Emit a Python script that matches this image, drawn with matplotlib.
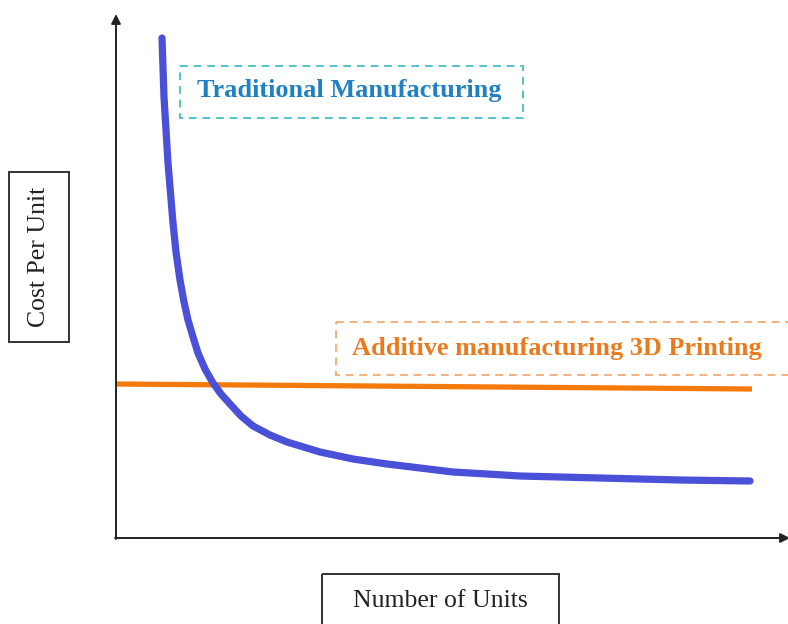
import matplotlib
matplotlib.use("Agg")
import matplotlib.pyplot as plt
from matplotlib.patches import Rectangle, FancyArrowPatch

# Cost per unit versus number of units (arbitrary scale)
units_traditional = [46, 48, 52, 57, 60, 64, 68, 72, 77, 82, 89, 97, 105, 114,
                     125, 137, 154, 171, 204, 237, 271, 304, 337, 371, 404, 484, 564, 634]
cost_traditional = [500, 441, 375, 315, 286, 258, 236, 218, 201, 185, 169, 155, 144, 134,
                    122, 112, 103, 96, 86, 79, 74, 70, 66, 64, 62, 60, 58, 57]
units_additive = [0, 636]
cost_additive = [154, 149]

label_traditional = "Traditional Manufacturing"
label_additive = "Additive manufacturing 3D Printing"
xlabel = "Number of Units"
ylabel = "Cost Per Unit"

W, H = 788, 624
fig = plt.figure(figsize=(W / 100, H / 100), dpi=100)
serif = ["Liberation Serif", "DejaVu Serif"]

# Main plotting area: origin at (116, 538) px, extending to (786, 18) px
x0, y0, x1, y1 = 116, 538, 786, 18
ax = fig.add_axes([x0 / W, (H - y0) / H, (x1 - x0) / W, (y0 - y1) / H])
ax.set_xlim(0, x1 - x0)
ax.set_ylim(0, y0 - y1)
ax.axis("off")

ax.plot(units_additive, cost_additive, color="#F47A0C", lw=3.8,
        solid_capstyle="butt", zorder=2)
ax.plot(units_traditional, cost_traditional, color="#4A50D8", lw=5.2,
        solid_capstyle="round", solid_joinstyle="round", zorder=3)

# Overlay in pixel coordinates for axes arrows, boxes and labels
ov = fig.add_axes([0, 0, 1, 1])
ov.set_xlim(0, W)
ov.set_ylim(H, 0)
ov.axis("off")
ov.patch.set_alpha(0)

axis_col = "#222222"
ov.add_patch(FancyArrowPatch((x0, y0 + 1), (x0, 14), arrowstyle="-|>",
                             mutation_scale=14, color=axis_col, lw=1.4,
                             shrinkA=0, shrinkB=0))
ov.add_patch(FancyArrowPatch((x0 - 1, y0), (790, y0), arrowstyle="-|>",
                             mutation_scale=14, color=axis_col, lw=1.4,
                             shrinkA=0, shrinkB=0))

# Series labels in dashed boxes
ov.add_patch(Rectangle((180, 66), 343, 52, fill=False, ls=(0, (4, 3)),
                       lw=1.4, ec="#52C3CF"))
ov.text(349, 90, label_traditional, ha="center", va="center",
        fontsize=18.9, fontweight="bold", color="#1F80C4", family=serif)

ov.add_patch(Rectangle((336, 322), 470, 53, fill=False, ls=(0, (4, 3)),
                       lw=1.4, ec="#F5B07E", clip_on=True))
ov.text(352, 348, label_additive, ha="left", va="center",
        fontsize=18.9, fontweight="bold", color="#EB7A1E", family=serif)

# Axis titles in solid boxes
ov.add_patch(Rectangle((9, 172), 60, 170, fill=False, lw=1.4, ec="#333333"))
ov.text(39, 257, ylabel, rotation=90, ha="center", va="center",
        fontsize=18.5, color="#222222", family=serif)

ov.add_patch(Rectangle((322, 574), 237, 60, fill=False, lw=1.4, ec="#333333"))
ov.text(440, 601, xlabel, ha="center", va="center",
        fontsize=18.5, color="#222222", family=serif)

fig.savefig("out.png", dpi=100)
